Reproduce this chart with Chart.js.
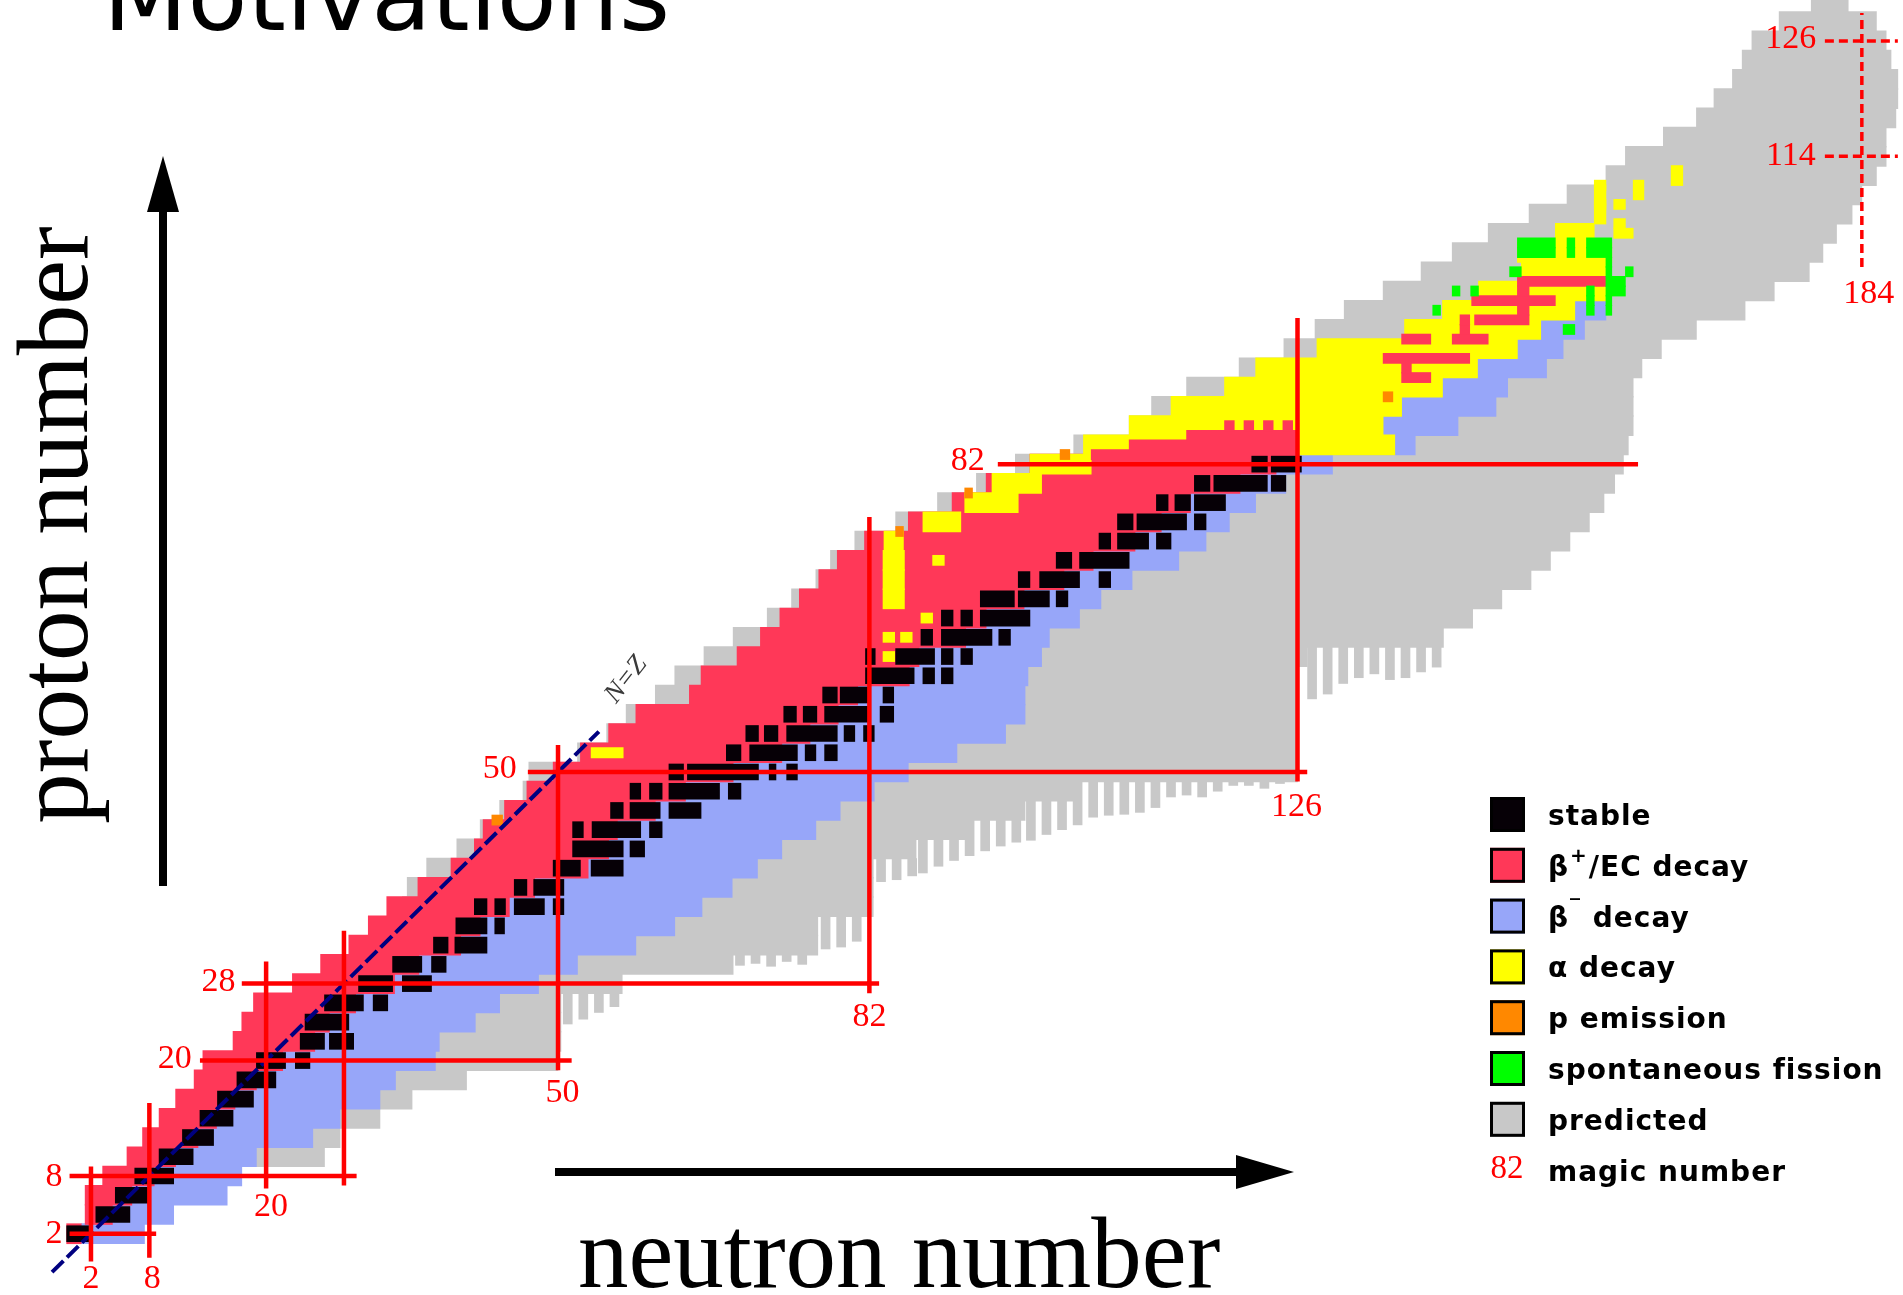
<!DOCTYPE html>
<html>
<head>
<meta charset="utf-8">
<title>Motivations - chart of nuclides</title>
<script src="https://cdn.jsdelivr.net/npm/chart.js@4.4.1/dist/chart.umd.min.js"></script>
<style>
  html, body { margin: 0; padding: 0; background: #fff; overflow: hidden; }
  #wrap { position: relative; width: 1903px; height: 1295px; }
</style>
</head>
<body>
<div id="wrap"><canvas id="nuclides"></canvas></div>
<script>
// Chart of nuclides script start

// one row of the chart = two proton numbers
const rowZ = [2, 4, 6, 8, 10, 12, 14, 16, 18, 20, 22, 24, 26, 28, 30, 32, 34, 36, 38, 40,
  42, 44, 46, 48, 50, 52, 54, 56, 58, 60, 62, 64, 66, 68, 70, 72, 74, 76, 78, 80,
  82, 84, 86, 88, 90, 92, 94, 96, 98, 100, 102, 104, 106, 108, 110, 112, 114, 116, 118, 120,
  122, 124, 126, 128, 130];

// beta+ / EC : from proton-rich edge to the valley of stability
const betaPlusFrom = [-0.5, 1.4, 1.4, 3.2, 5.7, 7.3, 9, 10.7, 12.6, 13.5, 16.6, 17.5, 18.7, 22.7, 25.6, 28.5, 30.5, 32.4, 35.6, 39,
  41.4, 42.3, 44.5, 46.8, 49.5, 52.3, 55.2, 58, 63.5, 64.7, 68.4, 70.8, 72.8, 74.8, 76.8, 78.7, 81.5, 86, 90.5, 94,
  98.5];
const valley = [1, 4.2, 6.2, 8.5, 10.7, 13, 14.9, 16.8, 19, 21.7, 25, 26.5, 29.2, 33.2, 35.7, 40, 42, 45, 47.6, 53.1,
  55.2, 56.1, 60, 63.1, 68, 73, 75.9, 78.8, 80.8, 86.1, 87.1, 91.9, 94, 97.9, 102, 105, 109.3, 112, 115, 120.1,
  123.8, 128, 134.8, 136.7, 140.9, 144.5, 148.6, 151, 154.5];
// beta- : from the valley to the neutron-rich known edge
const betaMinusTo = [7.5, 10.5, 16, 17.5, 19, 24.8, 27.6, 31.7, 33.3, 37.4, 37.8, 41.5, 44, 48, 52, 58, 62, 64.8, 67.9, 70.5,
  73, 76.5, 79, 82.5, 86, 91, 96, 98, 98, 98.3, 99.7, 100.5, 103.6, 105.8, 109, 113.8, 116.6, 119, 121.7, 124.8,
  129.6, 138.1, 142.5, 146.4, 147.6, 151.6, 153.3, 155.5, 157.7];

// alpha decay band
const alphaRowZ = [68, 70, 72, 74, 76, 78, 80, 82, 84, 86, 88, 90, 92, 94, 96, 98, 100, 102, 104, 106, 108, 110, 112];
const alphaFrom = [83.4, 83.4, 83.4, 83.5, 87.5, 91.8, 94.6, 98.5, 104, 108.7, 113, 118.5, 121.7, 128, 137, 140.9, 144.6, 149, 148.6, 152.5, 156.5, 156.5, 164.4];
const alphaTo = [85.6, 85.6, 85.6, 85.5, 91.4, 97.3, 99.7, 104.8, 136, 134.8, 136.7, 140.9, 144.5, 148.6, 151, 154.5, 157.9, 157.7, 158.3, 156.5, 157.7, 157.7, 165.6];

// predicted nuclei (solid part of each row)
const predictedFrom = [null, null, null, null, 18, 24, 27, 30, 33, 37, 37, 41, 43, 47, 50, 55, 60, 34, 34.5, 36.5,
  39.6, 42, 44, 46.4, 47, 52, 55, 57, 60, 62, 65, 68, 71.5, 74, 76.5, 78, 80.5, 84.7, 89, 93,
  97, 103, 108.7, 111, 114.6, 120, 124.6, 127.8, 130.8, 134.8, 138.7, 141.9, 145.6, 149.8, 153.7, 157.7, 159.7, 163.6, 167, 168.8,
  170.7, 171.7, 172.7, 175.5, 178.8];
const predictedTo = [null, null, null, null, 26, 27.6, 31.7, 35, 40.6, 50, 50.3, 50.3, 50.3, 56.6, 68, 76.7, 76.7, 82.4, 82.4, 82.4,
  86.8, 92, 98, 103, 126, 126, 126, 126, 126, 126, 127, 141, 144, 147, 150, 152, 154, 156, 157.5, 158.6,
  159.5, 160, 160.5, 160.5, 160.5, 161.4, 163.4, 167, 172, 175, 178.6, 180, 181.4, 183, 184, 185.5, 186.5, 186.5, 187.5, 187.7,
  187.7, 187, 186.5, 185.5, 182.6];
// comb of predicted columns hanging below the solid part [N, Z bottom, Z top]
const predictedTeeth = [
  [51, 23.8, 27], [52.6, 24.3, 27], [54.2, 25, 27], [55.8, 25.6, 27],
  [68.7, 29.9, 31], [70.3, 30.1, 31], [71.9, 29.8, 31], [73.5, 30.3, 31], [75.1, 30, 31],
  [77.5, 31.6, 35], [79.1, 31.8, 35], [80.7, 32.4, 35],
  [83.2, 38.6, 41], [84.8, 38.8, 41], [86.4, 39.2, 41],
  [87.5, 39.5, 43], [89.1, 40.2, 43], [90.7, 40.8, 43],
  [92.3, 41.3, 45], [93.9, 41.8, 45], [95.5, 42.3, 45], [97.1, 42.7, 45],
  [98.6, 42.9, 47], [100.2, 43.5, 47], [101.8, 44, 47],
  [103.4, 44.5, 49], [105, 45.3, 49], [106.6, 45.5, 49], [108.2, 45.6, 49], [109.8, 45.8, 49], [111.4, 46.3, 49],
  [113, 47.4, 49], [114.6, 47.6, 49], [116.2, 47.4, 49], [117.8, 48, 49], [119.4, 48.6, 49], [121, 48.6, 49],
  [122.6, 48.3, 49], [124.2, 48.8, 49],
  [127.5, 57.6, 63], [129.1, 58.1, 63], [130.7, 59.2, 63], [132.3, 59.8, 63], [133.9, 60.2, 63],
  [135.5, 59.6, 63], [137.1, 59.8, 63], [138.7, 60.4, 63], [140.3, 60.9, 63]
];

// stable nuclei runs [Z, N from, N to]
const stableRuns = [
  [2, -0.5, 1.8], [4, 2.5, 6], [6, 4.5, 8], [8, 6.5, 10.5], [10, 9, 12.5], [12, 11.4, 14.6], [14, 13.2, 16.6],
  [16, 15, 18.7], [18, 17, 21], [20, 19, 22], [20, 23, 24.5], [22, 23.5, 26], [22, 26.5, 29], [24, 24, 28.5],
  [26, 26, 30], [26, 31, 32.5], [28, 29.5, 33], [28, 34, 37], [30, 33, 36], [30, 37, 38.5],
  [32, 37.2, 38.7], [32, 39.4, 42.7], [34, 39.5, 42.7], [34, 43.5, 44.5],
  [36, 41.4, 42.7], [36, 43.5, 44.6], [36, 45.5, 48.6], [36, 49.5, 50.6], [38, 45.5, 46.8], [38, 47.5, 50.6],
  [40, 49.5, 52.3], [40, 53.4, 56.7], [42, 51.5, 56.7], [42, 57.4, 58.9],
  [44, 51.5, 52.6], [44, 53.5, 58.5], [44, 59.4, 60.7], [46, 55.4, 56.7], [46, 57.4, 60.5], [46, 61.4, 64.7],
  [48, 57.4, 58.5], [48, 59.4, 60.7], [48, 61.4, 66.6], [48, 67.5, 68.8],
  [50, 61.4, 62.9], [50, 63.3, 70.6], [50, 71.7, 72.4], [50, 73.5, 74.6],
  [52, 67.3, 68.8], [52, 69.7, 74.6], [52, 75.4, 76.5], [52, 77.4, 78.7],
  [54, 69.3, 70.6], [54, 71.2, 72.6], [54, 73.5, 78.7], [54, 79.4, 80.5], [54, 81.4, 82.5],
  [56, 73.2, 74.5], [56, 75.2, 76.6], [56, 77.4, 82], [56, 83.1, 84.5],
  [58, 77.2, 78.7], [58, 79, 82], [58, 83.4, 84.5],
  [60, 81.6, 86.6], [60, 87.5, 88.7], [60, 89.4, 90.6],
  [62, 81.6, 82.6], [62, 84.7, 88.7], [62, 89.4, 90.6], [62, 91.4, 92.6],
  [64, 87.3, 88.5], [64, 89.4, 94.6], [64, 95.3, 96.5],
  [66, 89.4, 90.6], [66, 91.4, 92.6], [66, 93.4, 98.5],
  [68, 93.4, 96.9], [68, 97.3, 100.5], [68, 101.2, 102.4],
  [70, 97.3, 98.5], [70, 99.5, 103.6], [70, 105.6, 106.8],
  [72, 101.2, 102.8], [72, 103.6, 108.7],
  [74, 105.6, 106.8], [74, 107.5, 110.7], [74, 111.5, 113],
  [76, 107.5, 109.1], [76, 109.5, 114.6], [76, 115.4, 116.6],
  [78, 111.5, 112.7], [78, 113.4, 115], [78, 115.4, 118.6],
  [80, 115.4, 117], [80, 117.4, 122.9], [80, 123.3, 124.8],
  [82, 121.3, 122.9], [82, 123.3, 126.4]
];

// single-row patches [Z, N from, N to]
const betaPlusPatches = [
  [83, 104.8, 126], [84, 108.7, 126], [85, 114.6, 126], [86, 118.5, 119.5], [86, 120.5, 121.5], [86, 122.5, 123.5], [86, 124.5, 125.5],
  [91, 136.7, 139.7], [92, 136.7, 137.7], [93, 134.8, 143.7], [95, 136.7, 139.7], [95, 141.9, 145.6], [96, 142.7, 143.7],
  [97, 142.7, 143.7], [97, 144.2, 149.8], [98, 148.6, 149.8], [99, 143.9, 152.5], [100, 148.6, 149.8], [101, 148.6, 157.7]
];
const alphaPatches = [
  [52, 53.4, 56.7], [62, 83.4, 84.6], [64, 83.4, 84.6], [64, 85.2, 86.4], [66, 87.3, 88.5], [72, 88.5, 89.7],
  [106, 158.5, 160.5], [107, 158.5, 159.7], [109, 158.5, 159.7], [109, 156.5, 157.7], [110, 160.5, 161.6],
  [111, 160.5, 161.6], [111, 156.5, 157.7]
];
const protonEmission = [[45, 43.2, 44.3], [75, 84.7, 85.5], [79, 91.8, 92.6], [83, 101.6, 102.6], [89, 134.8, 135.8]];
const fission = [
  [105, 148.6, 152.5], [105, 153.7, 154.5], [105, 155.7, 158.3], [104, 148.6, 152.5], [104, 153.7, 154.5], [104, 155.7, 158.3],
  [103, 157.7, 158.3], [102, 147.8, 149], [102, 157.7, 158.3], [102, 159.7, 160.5], [101, 157.7, 159.7],
  [100, 141.9, 142.7], [100, 143.8, 144.6], [100, 155.7, 156.5], [100, 157.7, 159.7], [99, 155.7, 156.5], [99, 157.7, 158.3],
  [98, 139.9, 140.7], [98, 155.7, 156.5], [98, 157.7, 158.3], [96, 153.3, 154.5]
];

// magic numbers and the extent of their lines
const magicZ = [2, 8, 20, 28, 50, 82];
const magicZFrom = [-0.2, -0.2, 13.2, 17.5, 46.9, 95.2];
const magicZTo = [8.7, 29.3, 51.4, 83, 127, 161];
const magicN = [2, 8, 20, 28, 50, 82, 126];
const magicNFrom = [-0.9, -0.5, 6.7, 7, 19, 27, 49];
const magicNTo = [9, 15.6, 30.3, 33.5, 52.8, 76.5, 97.2];
const islandZ = [114, 126];
const islandZFrom = [180.2, 180.2];
const islandZTo = [187.7, 187.7];
const islandN = [184];
const islandNFrom = [102.5];
const islandNTo = [128.9];
const nzLine = [-2, 54.2];

// axis window
const nMin = -7.35, nMax = 188.23;
const zMin = -4.37, zMax = 130.25;

const STABLE = '#060006';
const BETA_PLUS = '#ff3858';
const BETA_MINUS = '#97a6f9';
const ALPHA = '#ffff00';
const P_EMISSION = '#ff8800';
const FISSION = '#00ff00';
const PREDICTED = '#c8c8c8';
const MAGIC = '#ff0000';
const NZ_COLOR = '#000080';

function rows(zs, from, to) {
  const out = [];
  zs.forEach((z, i) => {
    if (from[i] != null && to[i] != null) out.push({ y: z, x: [from[i], to[i]] });
  });
  return out;
}
function patches(list) {
  return list.map(p => ({ y: p[0], x: [p[1], p[2]] }));
}
function columns(list) {
  return list.map(p => ({ x: p[0], y: [p[1], p[2]] }));
}
function lineSegments(levels, from, to, horizontal) {
  const pts = [];
  levels.forEach((m, i) => {
    if (horizontal) { pts.push({ x: from[i], y: m }, { x: to[i], y: m }); }
    else { pts.push({ x: m, y: from[i] }, { x: m, y: to[i] }); }
    pts.push({ x: null, y: null });
  });
  return pts;
}

const wrap = document.getElementById('wrap');
const rowPx = 2 * wrap.clientHeight / (zMax - zMin);

function bars(label, data, color, order, thick) {
  return { type: 'bar', label, data, backgroundColor: color, borderWidth: 0, grouped: false, barThickness: thick, order };
}

// label spots (annotation positions in N, Z)
const labelSpots = [
  ['2', -1.8, 2], ['8', -1.8, 7.9], ['20', 10.6, 20.2], ['28', 15.1, 28.2], ['50', 44, 50.3], ['82', 92.1, 82.35],
  ['126', 176.7, 126.2], ['114', 176.7, 114.05], ['184', 184.7, 99.7],
  ['2', 2, -2.7], ['8', 8.3, -2.7], ['20', 20.5, 4.8], ['50', 50.45, 16.6], ['82', 82, 24.5], ['126', 125.9, 46.4]
];

const legendEntries = [
  { text: 'stable', color: STABLE },
  { text: 'β', sup: '+', rest: '/EC decay', color: BETA_PLUS },
  { text: 'β', sup: '‾', rest: ' decay', color: BETA_MINUS },
  { text: 'α decay', color: ALPHA },
  { text: 'p emission', color: P_EMISSION },
  { text: 'spontaneous fission', color: FISSION },
  { text: 'predicted', color: PREDICTED },
  { text: 'magic number', magic: '82' }
];

const decor = {
  id: 'decor',
  afterDraw(chart) {
    const { ctx } = chart;
    const xs = chart.scales.x, ys = chart.scales.y;
    ctx.save();

    // title, cut by the top edge
    ctx.fillStyle = '#000';
    ctx.font = '98px "DejaVu Sans", sans-serif';
    ctx.textAlign = 'left';
    ctx.textBaseline = 'alphabetic';
    ctx.fillText('Motivations', 103, 30);

    // magic number labels
    ctx.fillStyle = MAGIC;
    ctx.font = '34px "Liberation Serif", "Times New Roman", serif';
    ctx.textAlign = 'center';
    ctx.textBaseline = 'middle';
    labelSpots.forEach(l => ctx.fillText(l[0], xs.getPixelForValue(l[1]), ys.getPixelForValue(l[2])));

    // N=Z tag
    ctx.save();
    ctx.translate(xs.getPixelForValue(57), ys.getPixelForValue(59.6));
    ctx.rotate(-52 * Math.PI / 180);
    ctx.fillStyle = '#3a3a3a';
    ctx.font = 'italic 27px "Liberation Serif", serif';
    ctx.fillText('N=Z', 0, 0);
    ctx.restore();

    // axis arrows
    ctx.fillStyle = '#000';
    ctx.strokeStyle = '#000';
    ctx.lineWidth = 8;
    ctx.beginPath(); ctx.moveTo(163, 886); ctx.lineTo(163, 200); ctx.stroke();
    ctx.beginPath(); ctx.moveTo(163, 156); ctx.lineTo(147, 212); ctx.lineTo(179, 212); ctx.closePath(); ctx.fill();
    ctx.beginPath(); ctx.moveTo(555, 1172); ctx.lineTo(1245, 1172); ctx.stroke();
    ctx.beginPath(); ctx.moveTo(1294, 1172); ctx.lineTo(1236, 1155); ctx.lineTo(1236, 1189); ctx.closePath(); ctx.fill();

    // axis titles
    ctx.font = '101px "Liberation Serif", "Times New Roman", serif';
    ctx.textBaseline = 'alphabetic';
    ctx.textAlign = 'left';
    ctx.fillText('neutron number', 578, 1287);
    ctx.save();
    ctx.translate(87, 525);
    ctx.rotate(-Math.PI / 2);
    ctx.textAlign = 'center';
    ctx.fillText('proton number', 0, 0);
    ctx.restore();

    // legend
    legendEntries.forEach((e, i) => {
      const cy = 814 + i * 50.8;
      if (e.magic) {
        ctx.fillStyle = MAGIC;
        ctx.font = '33px "Liberation Serif", serif';
        ctx.textAlign = 'center';
        ctx.textBaseline = 'middle';
        ctx.fillText(e.magic, 1507, cy);
      } else {
        ctx.fillStyle = e.color;
        ctx.fillRect(1490, cy - 17, 35, 35);
        ctx.lineWidth = 3;
        ctx.strokeStyle = '#000';
        ctx.strokeRect(1491.5, cy - 15.5, 32, 32);
      }
      ctx.fillStyle = '#000';
      ctx.textAlign = 'left';
      ctx.textBaseline = 'alphabetic';
      ctx.letterSpacing = '1px';
      ctx.font = 'bold 28px "DejaVu Sans", sans-serif';
      let tx = 1548;
      ctx.fillText(e.text, tx, cy + 11);
      tx += ctx.measureText(e.text).width;
      if (e.sup) {
        ctx.font = 'bold 20px "DejaVu Sans", sans-serif';
        ctx.fillText(e.sup, tx + 1, cy - 3);
        tx += ctx.measureText(e.sup).width + 2;
        ctx.font = 'bold 28px "DejaVu Sans", sans-serif';
        ctx.fillText(e.rest, tx, cy + 11);
      }
      ctx.letterSpacing = '0px';
    });
    ctx.restore();
  }
};

const nuclideChart = new Chart(document.getElementById('nuclides'), {
  type: 'bar',
  data: {
    datasets: [
      { type: 'line', label: 'magic numbers', data: lineSegments(magicZ, magicZFrom, magicZTo, true).concat(lineSegments(magicN, magicNFrom, magicNTo, false)),
        borderColor: MAGIC, borderWidth: 4.5, pointRadius: 0, spanGaps: false, order: -3 },
      { type: 'line', label: 'island', data: lineSegments(islandZ, islandZFrom, islandZTo, true).concat(lineSegments(islandN, islandNFrom, islandNTo, false)),
        borderColor: MAGIC, borderWidth: 3.5, borderDash: [9, 5], pointRadius: 0, spanGaps: false, order: -3 },
      { type: 'line', label: 'N=Z', data: [{ x: nzLine[0], y: nzLine[0] }, { x: nzLine[1], y: nzLine[1] }],
        borderColor: NZ_COLOR, borderWidth: 4, borderDash: [16, 5], pointRadius: 0, order: -2 },
      bars('stable', patches(stableRuns), STABLE, 1, 16),
      bars('spontaneous fission', patches(fission), FISSION, 2, rowPx / 2 + 0.5),
      bars('p emission', patches(protonEmission), P_EMISSION, 3, rowPx / 2 + 0.5),
      bars('alpha patches', patches(alphaPatches), ALPHA, 4, rowPx / 2 + 0.5),
      bars('beta+ patches', patches(betaPlusPatches), BETA_PLUS, 5, rowPx / 2 + 0.5),
      bars('α decay', rows(alphaRowZ, alphaFrom, alphaTo), ALPHA, 6, rowPx + 0.8),
      bars('β+/EC decay', rows(rowZ, betaPlusFrom, valley), BETA_PLUS, 7, rowPx + 0.8),
      bars('β- decay', rows(rowZ, valley, betaMinusTo), BETA_MINUS, 8, rowPx + 0.8),
      bars('predicted', rows(rowZ, predictedFrom, predictedTo), PREDICTED, 9, rowPx + 0.8),
      Object.assign(bars('predicted comb', columns(predictedTeeth), PREDICTED, 9, 9), { indexAxis: 'x' })
    ]
  },
  options: {
    indexAxis: 'y',
    responsive: true,
    maintainAspectRatio: false,
    animation: false,
    layout: { padding: 0 },
    scales: {
      x: { type: 'linear', min: nMin, max: nMax, offset: false, display: false },
      y: { type: 'linear', min: zMin, max: zMax, offset: false, display: false }
    },
    plugins: {
      legend: { display: false },
      title: { display: false },
      tooltip: { enabled: false }
    }
  },
  plugins: [decor]
});
</script>
</body>
</html>
